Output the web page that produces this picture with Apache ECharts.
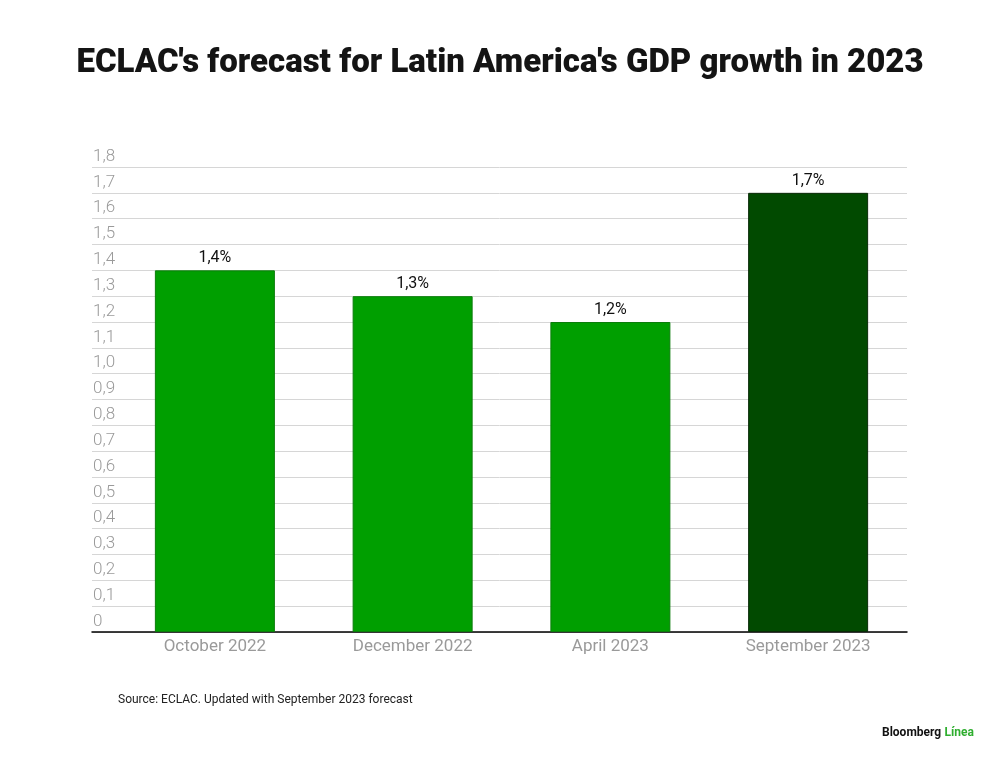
<!DOCTYPE html>
<html>
<head>
<meta charset="utf-8">
<title>ECLAC's forecast for Latin America's GDP growth in 2023</title>
<script src="https://cdn.jsdelivr.net/npm/echarts@6/dist/echarts.min.js"></script>
<style>
  html, body { margin: 0; padding: 0; background: #fff; }
  #chart { width: 1000px; height: 762px; }
</style>
</head>
<body>
<div id="chart"></div>
<script>
// Chart data
const categories = ["October 2022", "December 2022", "April 2023", "September 2023"];
const growth = [1.4, 1.3, 1.2, 1.7];
const barColors = ["#009f00", "#009f00", "#009f00", "#014a00"];
const yMin = 0;
const yMax = 1.8;
const yStep = 0.1;

const comma = v => (v === 0 ? "0" : v.toFixed(1).replace(".", ","));

const chart = echarts.init(document.getElementById("chart"));

const option = {
    backgroundColor: "#fff",
    animation: false,
    title: [{
        text: "ECLAC's forecast for Latin America's GDP growth in 2023",
        left: "center",
        top: 42,
        textStyle: {
            fontFamily: "Roboto",
            fontWeight: 900,
            fontSize: 33,
            color: "#141414"
        }
    }],
    // grid 0 carries the split lines and base line, grid 1 the bars
    grid: [
        { left: 92, right: 93, top: 167, bottom: 130 },
        { left: 116, right: 93, top: 167, bottom: 130 }
    ],
    xAxis: [{
        gridIndex: 0,
        type: "category",
        data: categories,
        axisLine: { lineStyle: { color: "#000", width: 1.5 } },
        axisTick: { show: false },
        axisLabel: { show: false }
    }, {
        gridIndex: 1,
        type: "category",
        data: categories,
        axisLine: { show: false },
        axisTick: { show: false },
        axisLabel: {
            margin: 6,
            fontFamily: "Roboto",
            fontSize: 17,
            color: "#9a9a9a"
        }
    }],
    yAxis: [{
        gridIndex: 0,
        type: "value",
        min: yMin,
        max: yMax,
        interval: yStep,
        axisLine: { show: false },
        axisTick: { show: false },
        splitLine: { lineStyle: { color: "#d6d6d6", width: 1 } },
        axisLabel: {
            inside: true,
            margin: 1,
            verticalAlign: "bottom",
            padding: [0, 0, 2, 0],
            fontFamily: "Roboto",
            fontWeight: 300,
            fontSize: 17,
            color: "#9a9a9a",
            formatter: comma
        }
    }, {
        gridIndex: 1,
        type: "value",
        min: yMin,
        max: yMax,
        interval: yStep,
        show: false,
        splitLine: { show: false }
    }],
    series: [{
        type: "bar",
        xAxisIndex: 1,
        yAxisIndex: 1,
        barWidth: 120,
        data: growth.map((v, i) => ({
            value: v,
            itemStyle: {
                color: barColors[i],
                borderColor: i === 3 ? "#0a2a08" : "#0b7d0b",
                borderWidth: 1
            }
        })),
        label: {
            show: true,
            position: "top",
            distance: 4,
            fontFamily: "Roboto",
            fontSize: 16,
            color: "#111",
            formatter: p => comma(p.value) + "%"
        }
    }],
    graphic: [{
        type: "text",
        left: 118,
        top: 694,
        style: {
            text: "Source: ECLAC. Updated with September 2023 forecast",
            font: "12px Roboto",
            fill: "#222"
        }
    }, {
        type: "text",
        left: 882,
        top: 727,
        style: {
            text: "{b|Bloomberg} {g|Línea}",
            rich: {
                b: { fontFamily: "Roboto", fontWeight: 700, fontSize: 12, fill: "#111" },
                g: { fontFamily: "Roboto", fontWeight: 700, fontSize: 12, fill: "#2fae2f" }
            }
        }
    }]
};

chart.setOption(option);
</script>
</body>
</html>
